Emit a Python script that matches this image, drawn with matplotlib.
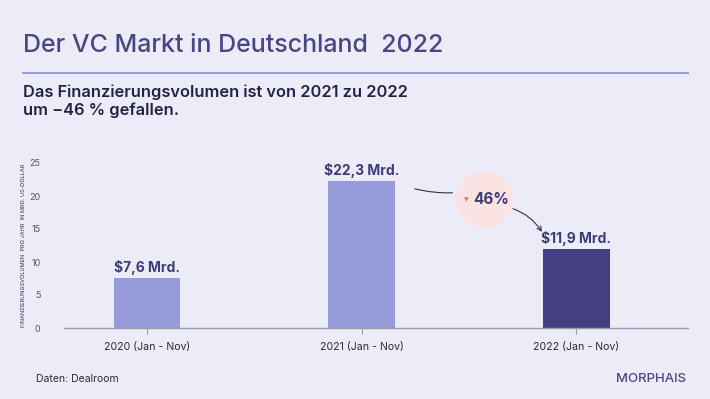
import matplotlib
matplotlib.use("Agg")
import matplotlib.pyplot as plt
from matplotlib.lines import Line2D

categories = ["2020 (Jan - Nov)", "2021 (Jan - Nov)", "2022 (Jan - Nov)"]
values = [7.6, 22.3, 11.9]
value_labels = ["$7,6 Mrd.", "$22,3 Mrd.", "$11,9 Mrd."]
yticks = [0, 5, 10, 15, 20, 25]
change_label = "46%"

BG = "#ECEBF8"
LIGHT = "#979BD9"
DARK = "#433F80"
TXT = "#3F3B78"
FONT = "Inter"

fig = plt.figure(figsize=(7.10, 3.99), dpi=100, facecolor=BG)
ax = fig.add_axes([64/710, (399-328)/399, 624/710, 165/399], facecolor=BG)

x = list(range(len(categories)))
colors = [LIGHT, LIGHT, DARK]
ax.bar(x, values, width=0.31, color=colors, zorder=2)
for xi, v, lab in zip(x, values, value_labels):
    ax.text(xi, v + 0.95, lab, ha="center", va="baseline", fontsize=10,
            fontweight="bold", color=TXT, family=FONT)

ax.set_xlim(-0.387, 2.52)
ax.set_ylim(0, 25)
ax.set_yticks(yticks)
ax.set_yticklabels([str(t) for t in yticks], fontsize=6.5, color="#555566", family=FONT)
ax.tick_params(axis="y", length=0, pad=17)
ax.set_xticks(x)
ax.set_xticklabels(categories, fontsize=7.6, color="#2a2a3a", family=FONT)
ax.tick_params(axis="x", length=4, color="#9a9aaa", pad=6)
for s in ["top", "right", "left"]:
    ax.spines[s].set_visible(False)
ax.spines["bottom"].set_color("#9a9aaa")
ax.spines["bottom"].set_linewidth(1)
ax.set_ylabel("FINANZIERUNGSVOLUMEN  PRO JAHR  IN MRD. US-DOLLAR", fontsize=4,
              color="#333344", family=FONT, labelpad=9)
ax.yaxis.set_label_coords(-(64 - 26) / 624, 0.5)

# change bubble and arrows
cx, cy = 1.571, 19.5
ax.scatter([cx], [cy], s=1650, color="#FBE3E3", zorder=3, clip_on=False, linewidths=0)
ax.text(cx + 0.03, cy, change_label, ha="center", va="center", fontsize=11,
        fontweight="bold", color=TXT, family=FONT, zorder=4)
ax.text(cx - 0.085, cy - 0.1, "\u25BC", ha="center", va="center", fontsize=4.5,
        color="#D9786E", family="DejaVu Sans", zorder=4)
ax.annotate("", xy=(1.436, 20.5), xytext=(1.235, 21.2),
            arrowprops=dict(arrowstyle="-", color="#333344", lw=0.8,
                            connectionstyle="arc3,rad=0.08"), zorder=3)
ax.annotate("", xy=(1.846, 14.2), xytext=(1.692, 18.2),
            arrowprops=dict(arrowstyle="->", color="#333344", lw=0.8,
                            connectionstyle="arc3,rad=-0.2", mutation_scale=8), zorder=3)

# header
fig.text(23/710, 1 - 45/399, "Der VC Markt in Deutschland  2022", fontsize=18,
         color="#4A4684", family=FONT, va="center", ha="left", fontweight="medium")
fig.add_artist(Line2D([23/710, 688/710], [1 - 73/399, 1 - 73/399], color="#9D9BDB", lw=1.5))
fig.text(23/710, 1 - 101/399, "Das Finanzierungsvolumen ist von 2021 zu 2022\num \u221246 % gefallen.",
         fontsize=11.8, color="#222244", family=FONT, va="center", ha="left",
         fontweight="semibold", linespacing=1.2)

# footer
fig.text(36/710, 1 - 379/399, "Daten: Dealroom", fontsize=7.5, color="#2a2a3a",
         family=FONT, va="center", ha="left")
fig.text(686/710, 1 - 379/399, "MORPHAIS", fontsize=9.5, color="#4A4684",
         family=FONT, va="center", ha="right", fontweight="medium")

fig.savefig("out.png", dpi=100, facecolor=BG)
